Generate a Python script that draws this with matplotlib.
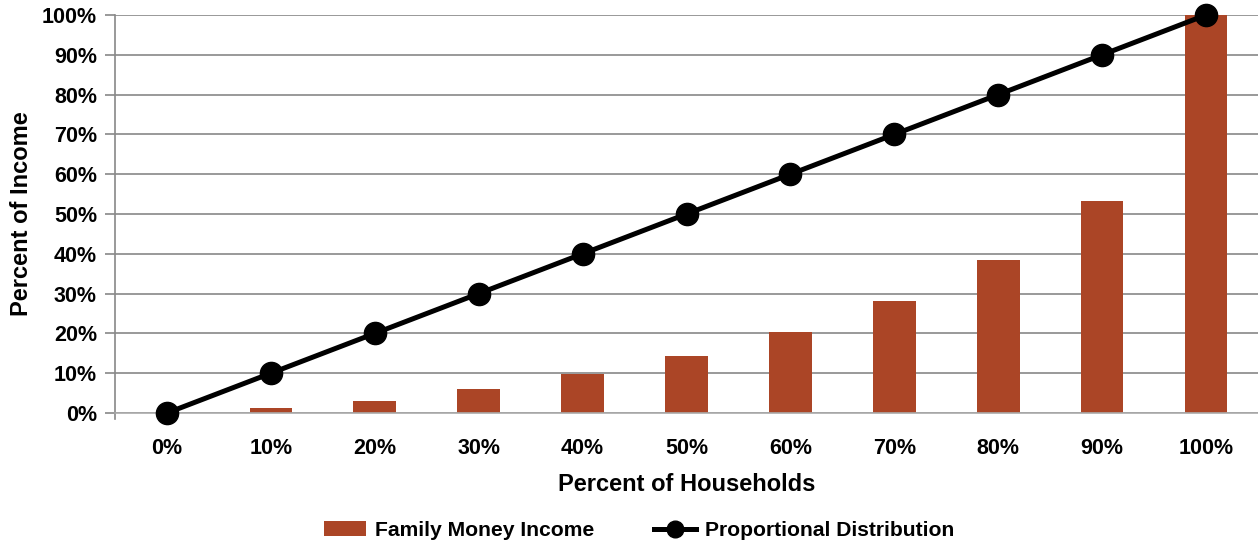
import matplotlib
matplotlib.use("Agg")
import matplotlib.pyplot as plt
import numpy as np

# Cumulative shares (percent)
households = ["0%", "10%", "20%", "30%", "40%", "50%", "60%", "70%", "80%", "90%", "100%"]
family_income = [0, 1.3, 3.0, 6.0, 9.7, 14.3, 20.4, 28.1, 38.4, 53.3, 100]
proportional = [0, 10, 20, 30, 40, 50, 60, 70, 80, 90, 100]
y_ticks = [0, 10, 20, 30, 40, 50, 60, 70, 80, 90, 100]

plt.rcParams["font.family"] = ["Liberation Sans", "DejaVu Sans"]

fig = plt.figure(figsize=(12.58, 5.44), dpi=100)
ax = fig.add_axes([115 / 1258, 1 - 413 / 544, 1143 / 1258, 398 / 544])

x = np.arange(len(households))
bars = ax.bar(x, family_income, width=0.41, color="#AB4526", zorder=2,
              label="Family Money Income")
line, = ax.plot(x, proportional, color="black", linewidth=3.6, marker="o",
                markersize=16, zorder=3, clip_on=False,
                label="Proportional Distribution")

ax.set_xlim(-0.5, len(households) - 0.5)
ax.set_ylim(0, 100)
ax.set_yticks(y_ticks)
ax.set_yticklabels([f"{v}%" for v in y_ticks], fontsize=15.5, fontweight="bold")
ax.set_xticks(x)
ax.set_xticklabels(households, fontsize=15.5, fontweight="bold")
ax.tick_params(axis="x", length=0, pad=18)
ax.tick_params(axis="y", length=7, color="#888888", width=1.2, pad=6)

ax.grid(axis="y", color="#888888", linewidth=1.2, zorder=0)
for side in ("top", "right"):
    ax.spines[side].set_visible(False)
ax.spines["bottom"].set_color("#aaaaaa")
ax.spines["bottom"].set_linewidth(1.2)
ax.spines["left"].set_color("#888888")
ax.spines["left"].set_linewidth(1.2)
ax.spines["left"].set_bounds(-1.5, 100)
ax.set_axisbelow(True)

ax.set_xlabel("Percent of Households", fontsize=17, fontweight="bold", labelpad=10)
ax.set_ylabel("Percent of Income", fontsize=17, fontweight="bold", labelpad=6)

fig.legend(handles=[bars, line], loc="lower center", bbox_to_anchor=(0.508, -0.028),
           ncol=2, frameon=False, prop={"weight": "bold", "size": 15.2},
           handlelength=2.0, columnspacing=2.8, handletextpad=0.45, markerscale=0.75)

fig.savefig("out.png", dpi=100)
